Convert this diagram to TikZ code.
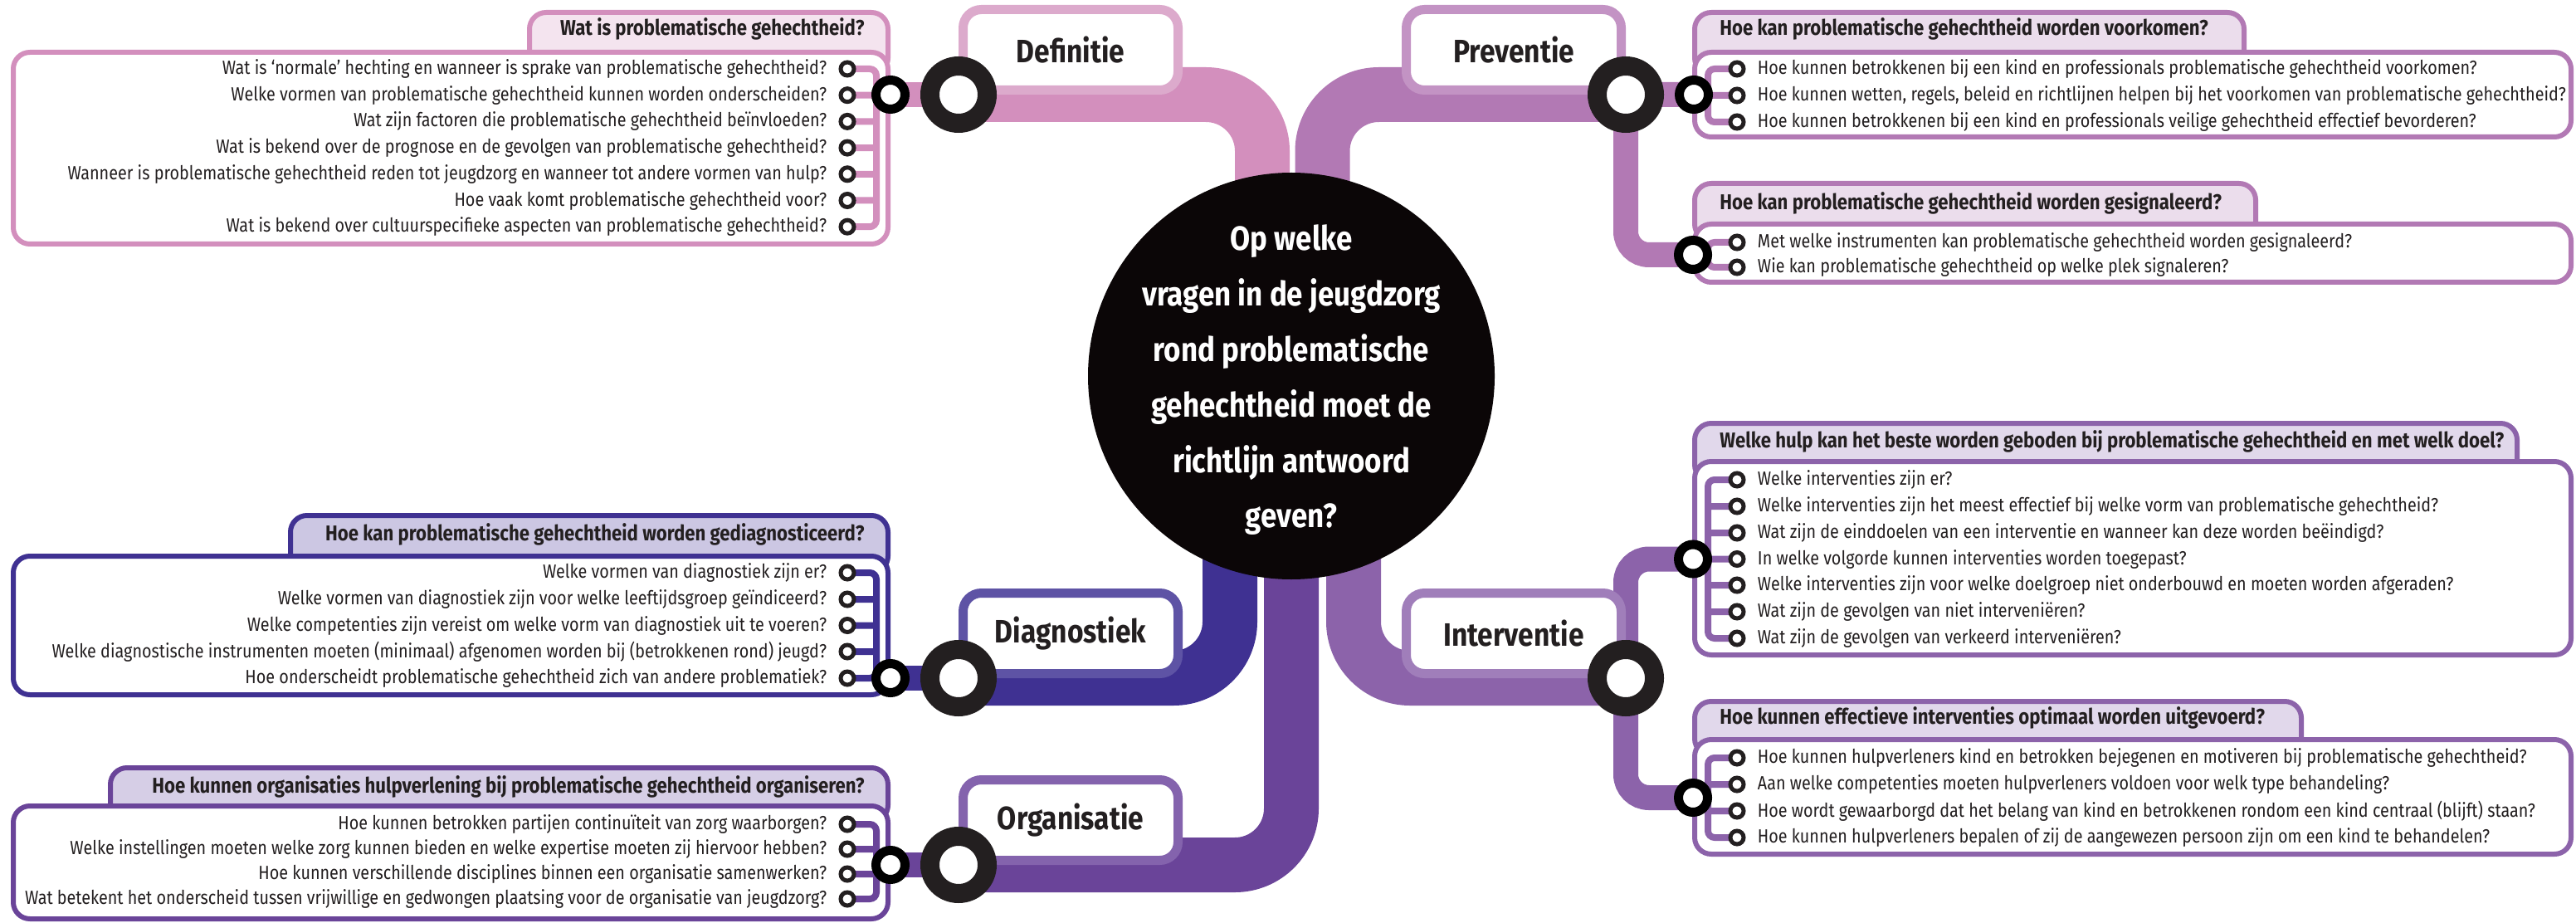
\documentclass[tikz,border=0pt]{standalone}
\usepackage{fontspec}
\setmainfont{Fira Sans}[FakeStretch=0.86]
\usepackage{tikz}
\usetikzlibrary{positioning}
\pgfdeclarelayer{back}
\pgfdeclarelayer{mid}
\pgfdeclarelayer{links}
\pgfsetlayers{back,mid,links,main}

\definecolor{ink}{HTML}{231F20}
\definecolor{hubc}{HTML}{0B0607}
\definecolor{defc}{HTML}{D38FBD}
\definecolor{defl}{HTML}{DCAACC}
\definecolor{defh}{HTML}{F4E4EF}
\definecolor{prevc}{HTML}{B279B4}
\definecolor{prevl}{HTML}{C393C4}
\definecolor{prevh}{HTML}{EBDDEC}
\definecolor{diagc}{HTML}{3F3192}
\definecolor{diagl}{HTML}{5E53A5}
\definecolor{diagh}{HTML}{CCC7E3}
\definecolor{orgc}{HTML}{6A4499}
\definecolor{orgl}{HTML}{8463AD}
\definecolor{orgh}{HTML}{D6CEE6}
\definecolor{intc}{HTML}{8C63AA}
\definecolor{intl}{HTML}{A07EBA}
\definecolor{inth}{HTML}{E1D8EB}

\begin{document}
\begin{tikzpicture}[x=1pt, y=-1pt,
    pipe/.style={line width=33pt, rounded corners=34pt},
    twig/.style={line width=15pt, rounded corners=14pt},
    bus/.style={line width=4pt, rounded corners=4pt},
    topic/.style={draw, line width=5.5pt, fill=white, rounded corners=11pt,
      minimum width=129.5pt, minimum height=48.5pt, text=ink,
      font=\bfseries\fontsize{19.5}{22}\selectfont},
    qbox/.style={line width=3pt, rounded corners=10pt, fill=white},
    qhead/.style={line width=3pt, rounded corners=10pt},
    bigring/.style={circle, draw=ink, fill=white, line width=11.5pt,
      minimum size=34.5pt, inner sep=0pt},
    midring/.style={circle, draw=black, fill=white, line width=5.5pt,
      minimum size=17.5pt, inner sep=0pt},
    qdot/.style={circle, draw=ink, fill=white, line width=2.5pt,
      minimum size=8pt, inner sep=0pt},
    ql/.style={left=7pt of #1, inner sep=0pt, text=ink,
      font=\fontsize{11.5}{12}\selectfont},
    qr/.style={right=7pt of #1, inner sep=0pt, text=ink,
      font=\fontsize{11.5}{12}\selectfont},
    hl/.style={anchor=east, inner sep=0pt, text=ink,
      font=\bfseries\fontsize{12.9}{15}\selectfont},
    hr/.style={anchor=west, inner sep=0pt, text=ink,
      font=\bfseries\fontsize{12.9}{15}\selectfont}]
  \useasboundingbox (0,0) rectangle (1552,556);

  \begin{pgfonlayer}{mid}
    \node[circle, fill=hubc, minimum size=245pt, inner sep=0pt] (hub) at (778,226.5) {};
    \node[align=center, text=white, font=\bfseries\fontsize{20.3}{33.4}\selectfont] (ask) at (778,229)
        {Op welke\\vragen in de jeugdzorg\\rond problematische\\gehechtheid moet de\\richtlijn antwoord\\geven?};
    \node[topic, draw=defl] (D) at (645,30) {Definitie};
    \node[topic, draw=prevl] (P) at (912,30) {Preventie};
    \node[topic, draw=diagl] (G) at (645,381.5) {Diagnostiek};
    \node[topic, draw=orgl] (O) at (645,494) {Organisatie};
    \node[topic, draw=intl] (I) at (912,381.5) {Interventie};

    \draw[qhead, draw=defc, fill=defh] (319,7.5) rectangle (535,45);
    \draw[qbox, draw=defc] (8,31.5) rectangle (535,147);
    \draw[qhead, draw=diagc, fill=diagh] (175,310.5) rectangle (535,345);
    \draw[qbox, draw=diagc] (8,335) rectangle (535,418.5);
    \draw[qhead, draw=orgc, fill=orgh] (66.5,462.5) rectangle (535,495);
    \draw[qbox, draw=orgc] (8,485.5) rectangle (535,553.5);
    \draw[qhead, draw=prevc, fill=prevh] (1021,7.5) rectangle (1352,45);
    \draw[qbox, draw=prevc] (1021,31.5) rectangle (1549,82.5);
    \draw[qhead, draw=prevc, fill=prevh] (1021,110.5) rectangle (1359,145);
    \draw[qbox, draw=prevc] (1021,135) rectangle (1549,170);
    \draw[qhead, draw=intc, fill=inth] (1021,255) rectangle (1516.5,290);
    \draw[qbox, draw=intc] (1021,278) rectangle (1549,394.5);
    \draw[qhead, draw=intc, fill=inth] (1021,422.5) rectangle (1386.5,455);
    \draw[qbox, draw=intc] (1021,445.5) rectangle (1549,514.5);
  \end{pgfonlayer}

  \node[hl] (Dh) at (521,17.5) {Wat is problematische gehechtheid?};
  \node[hl] (Gh) at (521,321.7) {Hoe kan problematische gehechtheid worden gediagnosticeerd?};
  \node[hl] (Oh) at (521,474) {Hoe kunnen organisaties hulpverlening bij problematische gehechtheid organiseren?};
  \node[hr] (Pha) at (1036,17.5) {Hoe kan problematische gehechtheid worden voorkomen?};
  \node[hr] (Phb) at (1036,122.5) {Hoe kan problematische gehechtheid worden gesignaleerd?};
  \node[hr] (Iha) at (1036,265.8) {Welke hulp kan het beste worden geboden bij problematische gehechtheid en met welk doel?};
  \node[hr] (Ihb) at (1036,432.5) {Hoe kunnen effectieve interventies optimaal worden uitgevoerd?};

  \node[bigring] (Dr) at (D.south west) {};
  \node[bigring] (Pr) at (P.south east) {};
  \node[bigring] (Gr) at (G.south west) {};
  \node[bigring] (Or) at (O.south west) {};
  \node[bigring] (Ir) at (I.south east) {};
  \node[midring, left=6.5pt of Dr] (Dm) {};
  \node[midring, left=6.5pt of Gr] (Gm) {};
  \node[midring, left=6.5pt of Or] (Om) {};
  \node[midring, right=6.5pt of Pr] (Pa) {};
  \node[midring] (Pb) at (1020,153.5) {};
  \node[midring] (Ia) at (1020,336.75) {};
  \node[midring] (Ib) at (1020,480.5) {};

  \node[qdot] (D1) at (510.5,41.5) {}; \node[ql=D1] (D1t) {Wat is ‘normale’ hechting en wanneer is sprake van problematische gehechtheid?};
  \node[qdot] (D2) at (510.5,57.35) {}; \node[ql=D2] (D2t) {Welke vormen van problematische gehechtheid kunnen worden onderscheiden?};
  \node[qdot] (D3) at (510.5,73.2) {}; \node[ql=D3] (D3t) {Wat zijn factoren die problematische gehechtheid beïnvloeden?};
  \node[qdot] (D4) at (510.5,89.05) {}; \node[ql=D4] (D4t) {Wat is bekend over de prognose en de gevolgen van problematische gehechtheid?};
  \node[qdot] (D5) at (510.5,104.9) {}; \node[ql=D5] (D5t) {Wanneer is problematische gehechtheid reden tot jeugdzorg en wanneer tot andere vormen van hulp?};
  \node[qdot] (D6) at (510.5,120.75) {}; \node[ql=D6] (D6t) {Hoe vaak komt problematische gehechtheid voor?};
  \node[qdot] (D7) at (510.5,136.6) {}; \node[ql=D7] (D7t) {Wat is bekend over cultuurspecifieke aspecten van problematische gehechtheid?};

  \node[qdot] (G1) at (510.5,345) {}; \node[ql=G1] (G1t) {Welke vormen van diagnostiek zijn er?};
  \node[qdot] (G2) at (510.5,361) {}; \node[ql=G2] (G2t) {Welke vormen van diagnostiek zijn voor welke leeftijdsgroep geïndiceerd?};
  \node[qdot] (G3) at (510.5,376.75) {}; \node[ql=G3] (G3t) {Welke competenties zijn vereist om welke vorm van diagnostiek uit te voeren?};
  \node[qdot] (G4) at (510.5,392.5) {}; \node[ql=G4] (G4t) {Welke diagnostische instrumenten moeten (minimaal) afgenomen worden bij (betrokkenen rond) jeugd?};
  \node[qdot] (G5) at (510.5,408.5) {}; \node[ql=G5] (G5t) {Hoe onderscheidt problematische gehechtheid zich van andere problematiek?};

  \node[qdot] (O1) at (510.5,496.5) {}; \node[ql=O1] (O1t) {Hoe kunnen betrokken partijen continuïteit van zorg waarborgen?};
  \node[qdot] (O2) at (510.5,511.5) {}; \node[ql=O2] (O2t) {Welke instellingen moeten welke zorg kunnen bieden en welke expertise moeten zij hiervoor hebben?};
  \node[qdot] (O3) at (510.5,526.5) {}; \node[ql=O3] (O3t) {Hoe kunnen verschillende disciplines binnen een organisatie samenwerken?};
  \node[qdot] (O4) at (510.5,541.5) {}; \node[ql=O4] (O4t) {Wat betekent het onderscheid tussen vrijwillige en gedwongen plaatsing voor de organisatie van jeugdzorg?};

  \node[qdot] (P1) at (1046.5,41.5) {}; \node[qr=P1] (P1t) {Hoe kunnen betrokkenen bij een kind en professionals problematische gehechtheid voorkomen?};
  \node[qdot] (P2) at (1046.5,57.5) {}; \node[qr=P2] (P2t) {Hoe kunnen wetten, regels, beleid en richtlijnen helpen bij het voorkomen van problematische gehechtheid?};
  \node[qdot] (P3) at (1046.5,73.5) {}; \node[qr=P3] (P3t) {Hoe kunnen betrokkenen bij een kind en professionals veilige gehechtheid effectief bevorderen?};
  \node[qdot] (P4) at (1046.5,146) {}; \node[qr=P4] (P4t) {Met welke instrumenten kan problematische gehechtheid worden gesignaleerd?};
  \node[qdot] (P5) at (1046.5,161) {}; \node[qr=P5] (P5t) {Wie kan problematische gehechtheid op welke plek signaleren?};

  \node[qdot] (I1) at (1046.5,289) {}; \node[qr=I1] (I1t) {Welke interventies zijn er?};
  \node[qdot] (I2) at (1046.5,305) {}; \node[qr=I2] (I2t) {Welke interventies zijn het meest effectief bij welke vorm van problematische gehechtheid?};
  \node[qdot] (I3) at (1046.5,321) {}; \node[qr=I3] (I3t) {Wat zijn de einddoelen van een interventie en wanneer kan deze worden beëindigd?};
  \node[qdot] (I4) at (1046.5,336.75) {}; \node[qr=I4] (I4t) {In welke volgorde kunnen interventies worden toegepast?};
  \node[qdot] (I5) at (1046.5,352.5) {}; \node[qr=I5] (I5t) {Welke interventies zijn voor welke doelgroep niet onderbouwd en moeten worden afgeraden?};
  \node[qdot] (I6) at (1046.5,368.5) {}; \node[qr=I6] (I6t) {Wat zijn de gevolgen van niet interveniëren?};
  \node[qdot] (I7) at (1046.5,384.5) {}; \node[qr=I7] (I7t) {Wat zijn de gevolgen van verkeerd interveniëren?};
  \node[qdot] (I8) at (1046.5,456.5) {}; \node[qr=I8] (I8t) {Hoe kunnen hulpverleners kind en betrokken bejegenen en motiveren bij problematische gehechtheid?};
  \node[qdot] (I9) at (1046.5,472.5) {}; \node[qr=I9] (I9t) {Aan welke competenties moeten hulpverleners voldoen voor welk type behandeling?};
  \node[qdot] (I10) at (1046.5,488.5) {}; \node[qr=I10] (I10t) {Hoe wordt gewaarborgd dat het belang van kind en betrokkenen rondom een kind centraal (blijft) staan?};
  \node[qdot] (I11) at (1046.5,504.5) {}; \node[qr=I11] (I11t) {Hoe kunnen hulpverleners bepalen of zij de aangewezen persoon zijn om een kind te behandelen?};

  \coordinate (hD) at (760.5,226);
  \coordinate (hP) at (796.75,226);
  \coordinate (hG) at (741,226);
  \coordinate (hO) at (778,226);
  \coordinate (hI) at (815.5,226);

  \begin{pgfonlayer}{back}
    \draw[pipe, draw=defc] (Dr.center) -| (hD);
    \draw[pipe, draw=prevc] (Pr.center) -| (hP);
    \draw[pipe, draw=diagc] (Gr.center) -| (hG);
    \draw[pipe, draw=orgc] (Or.center) -| (hO);
    \draw[pipe, draw=intc] (Ir.center) -| (hI);
    \draw[twig, draw=defc] (Dr.center) -- (Dm.center);
    \draw[twig, draw=diagc] (Gr.center) -- (Gm.center);
    \draw[twig, draw=orgc] (Or.center) -- (Om.center);
    \draw[twig, draw=prevc] (Pr.center) -- (Pa.center) (Pr.center) |- (Pb.center);
    \draw[twig, draw=intc] (Ir.center) |- (Ia.center) (Ir.center) |- (Ib.center);
  \end{pgfonlayer}

  \begin{pgfonlayer}{links}
    \draw[bus, draw=defc] (D1.center) -- ++(17.5,0) |- (D7.center)
      (D2.center) -- ++(17.5,0) (D3.center) -- ++(17.5,0) (D4.center) -- ++(17.5,0)
      (D5.center) -- ++(17.5,0) (D6.center) -- ++(17.5,0);
    \draw[bus, draw=diagc] (G1.center) -- ++(17.5,0) |- (G5.center)
      (G2.center) -- ++(17.5,0) (G3.center) -- ++(17.5,0) (G4.center) -- ++(17.5,0);
    \draw[bus, draw=orgc] (O1.center) -- ++(17.5,0) |- (O4.center)
      (O2.center) -- ++(17.5,0) (O3.center) -- ++(17.5,0);
    \draw[bus, draw=prevc] (P1.center) -- ++(-17.5,0) |- (P3.center)
      (P2.center) -- ++(-17.5,0);
    \draw[bus, draw=prevc] (P4.center) -- ++(-17.5,0) |- (P5.center);
    \draw[bus, draw=intc] (I1.center) -- ++(-17.5,0) |- (I7.center)
      (I2.center) -- ++(-17.5,0) (I3.center) -- ++(-17.5,0) (I4.center) -- ++(-17.5,0)
      (I5.center) -- ++(-17.5,0) (I6.center) -- ++(-17.5,0);
    \draw[bus, draw=intc] (I8.center) -- ++(-17.5,0) |- (I11.center)
      (I9.center) -- ++(-17.5,0) (I10.center) -- ++(-17.5,0);
  \end{pgfonlayer}
\end{tikzpicture}
\end{document}
